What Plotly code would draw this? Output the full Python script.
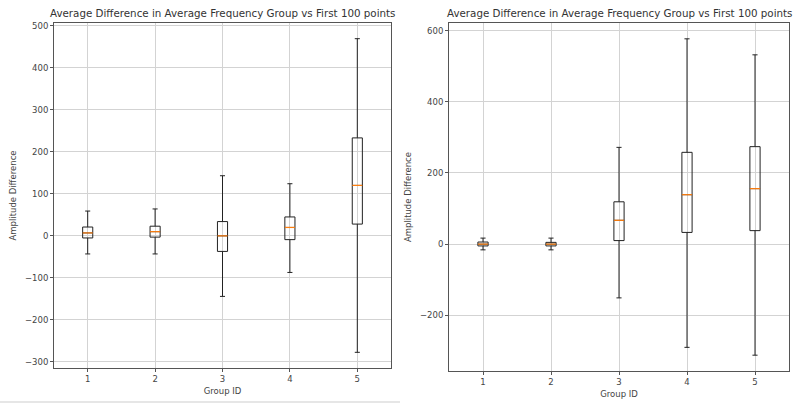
import plotly.graph_objects as go

groups = [1, 2, 3, 4, 5]
tick_labels = ["1", "2", "3", "4", "5"]

# Left panel statistics
left_low = [-43, -43, -144, -87, -277]
left_q1 = [-5, -3, -37, -9, 28]
left_med = [7, 10, 0, 20, 120]
left_q3 = [21, 23, 34, 45, 233]
left_high = [59, 64, 143, 124, 469]

# Right panel statistics
right_low = [-16, -16, -151, -290, -312]
right_q1 = [-5, -5, 10, 33, 38]
right_med = [0, 0, 67, 139, 156]
right_q3 = [6, 5, 119, 258, 274]
right_high = [17, 17, 272, 577, 532]

title_text = "Average Difference in Average Frequency Group vs First 100 points"
W, H = 804, 405
BOX_W = 0.15
FONT = "DejaVu Sans"
TXT = "#444444"

fig = go.Figure()


def add_panel(low, q1, med, q3, high, xa, ya):
    fig.add_trace(go.Box(
        x=groups, q1=q1, median=med, q3=q3,
        lowerfence=low, upperfence=high,
        width=BOX_W, whiskerwidth=0.5,
        line=dict(color="#222222", width=1),
        fillcolor="rgba(0,0,0,0)",
        boxpoints=False, showlegend=False, hoverinfo="skip",
        xaxis=xa, yaxis=ya,
    ))
    mx, my = [], []
    for g, m in zip(groups, med):
        mx += [g - BOX_W / 2, g + BOX_W / 2, None]
        my += [m, m, None]
    fig.add_trace(go.Scatter(
        x=mx, y=my, mode="lines",
        line=dict(color="#ff7f0e", width=1.2),
        showlegend=False, hoverinfo="skip",
        xaxis=xa, yaxis=ya,
    ))


add_panel(left_low, left_q1, left_med, left_q3, left_high, "x", "y")
add_panel(right_low, right_q1, right_med, right_q3, right_high, "x2", "y2")


def rng(low, high):
    lo, hi = min(low), max(high)
    pad = 0.05 * (hi - lo)
    return [lo - pad, hi + pad]


axis_common = dict(
    showline=True, mirror=True, linecolor="#555555", linewidth=1,
    showgrid=True, gridcolor="#d3d3d3", gridwidth=1,
    ticks="outside", ticklen=3, tickcolor="#555555",
    tickfont=dict(family=FONT, size=8.5, color=TXT),
    zeroline=False, automargin=False,
)

fig.update_layout(
    width=W, height=H,
    margin=dict(l=0, r=0, t=0, b=0),
    paper_bgcolor="white", plot_bgcolor="white",
    font=dict(family=FONT, color=TXT),
    xaxis=dict(domain=[54 / W, 391 / W], range=[0.5, 5.5],
               tickvals=groups, ticktext=tick_labels, anchor="y",
               title=dict(text="Group ID", font=dict(family=FONT, size=8.5, color=TXT), standoff=4),
               **axis_common),
    yaxis=dict(domain=[(H - 368) / H, (H - 23) / H], range=rng(left_low, left_high),
               dtick=100, anchor="x",
               title=dict(text="Amplitude Difference", font=dict(family=FONT, size=8.5, color=TXT), standoff=6),
               **axis_common),
    xaxis2=dict(domain=[449 / W, 789 / W], range=[0.5, 5.5],
                tickvals=groups, ticktext=tick_labels, anchor="y2",
                title=dict(text="Group ID", font=dict(family=FONT, size=8.5, color=TXT), standoff=4),
                **axis_common),
    yaxis2=dict(domain=[(H - 371) / H, (H - 23) / H], range=rng(right_low, right_high),
                dtick=200, anchor="x2",
                title=dict(text="Amplitude Difference", font=dict(family=FONT, size=8.5, color=TXT), standoff=6),
                **axis_common),
    annotations=[
        dict(text=title_text, xref="paper", yref="paper",
             x=(54 + 391) / 2 / W, y=(H - 13) / H, xanchor="center", yanchor="middle",
             showarrow=False, font=dict(family=FONT, size=10.3, color="#333333")),
        dict(text=title_text, xref="paper", yref="paper",
             x=(449 + 789) / 2 / W, y=(H - 13) / H, xanchor="center", yanchor="middle",
             showarrow=False, font=dict(family=FONT, size=10.3, color="#333333")),
    ],
    shapes=[dict(type="line", xref="paper", yref="paper", x0=0, x1=400 / W,
                 y0=(H - 402) / H, y1=(H - 402) / H,
                 line=dict(color="#e6e6e6", width=2))],
)

fig.write_html("out.html",
               config={"displayModeBar": False},
               post_script="document.body.style.margin='0';document.body.style.overflow='hidden';")
